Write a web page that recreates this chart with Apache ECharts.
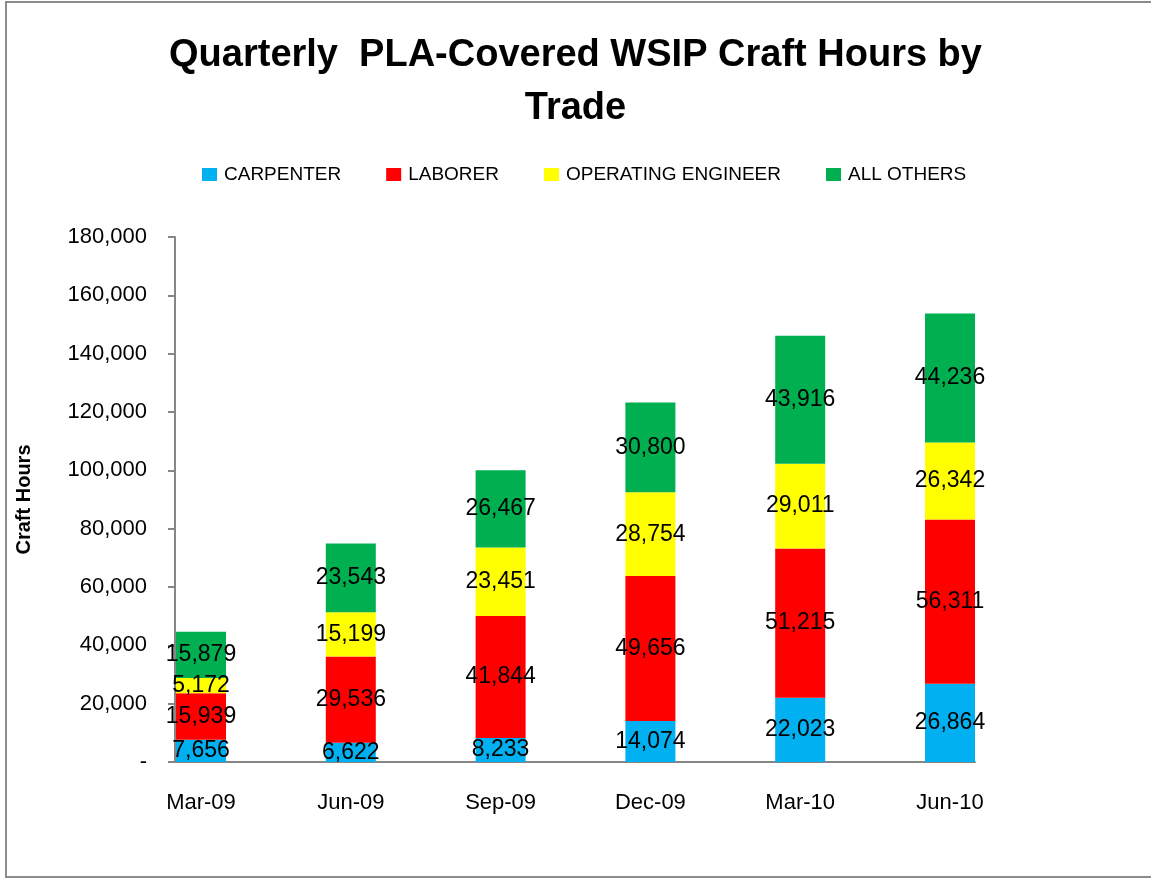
<!DOCTYPE html>
<html lang="en">
  <head>
    <meta charset="utf-8" />
    <style>
      html, body { margin: 0; height: 100%; overflow: hidden; background: #fff; }
      #container { position: absolute; left: 0; top: 0; width: 1151px; height: 878px; }
      #frame {
        position: absolute; left: 5px; top: 1px; width: 1300px; height: 877px;
        box-sizing: border-box; border: 2px solid #8c8c8c; pointer-events: none;
      }
    </style>
  </head>
  <body>
    <div id="container"></div>
    <div id="frame"></div>

    <script src="https://cdn.jsdelivr.net/npm/echarts@6/dist/echarts.min.js"></script>
    <script>
      var quarters = ["Mar-09", "Jun-09", "Sep-09", "Dec-09", "Mar-10", "Jun-10"];
      var carpenter = [7656, 6622, 8233, 14074, 22023, 26864];
      var laborer = [15939, 29536, 41844, 49656, 51215, 56311];
      var operatingEngineer = [5172, 15199, 23451, 28754, 29011, 26342];
      var allOthers = [15879, 23543, 26467, 30800, 43916, 44236];

      var trades = ["CARPENTER", "LABORER", "OPERATING ENGINEER", "ALL OTHERS"];
      var values = [carpenter, laborer, operatingEngineer, allOthers];
      var colors = ["#00B0F0", "#FF0000", "#FFFF00", "#00B050"];

      var font = "'Liberation Sans', Arial, sans-serif";

      function fmt(v) {
        return v === 0 ? "-" : Number(v).toLocaleString("en-US");
      }

      var myChart = echarts.init(document.getElementById("container"), null, { renderer: "canvas" });

      var series = trades.map(function (name, i) {
        return {
          name: name,
          type: "bar",
          stack: "hours",
          xAxisIndex: 0,
          yAxisIndex: 0,
          barWidth: 50,
          itemStyle: { color: colors[i] },
          label: {
            show: true,
            position: "inside",
            color: "#000",
            fontFamily: font,
            fontSize: 23,
            formatter: function (p) { return fmt(p.value); }
          },
          data: values[i]
        };
      });

      var option = {
        animation: false,
        color: colors,
        title: {
          text: "Quarterly  PLA-Covered WSIP Craft Hours by\nTrade",
          left: "center",
          top: 24,
          textStyle: {
            fontFamily: font,
            fontWeight: "bold",
            fontSize: 38,
            lineHeight: 53,
            color: "#000",
            align: "center"
          }
        },
        legend: {
          data: trades,
          left: 197,
          top: 160,
          itemWidth: 15,
          itemHeight: 13,
          itemGap: 45,
          icon: "rect",
          textStyle: { fontFamily: font, fontSize: 19, color: "#000", padding: [0, 0, 0, 2] }
        },
        grid: [
          { left: 201, right: 201, top: 237, bottom: 116 },
          { left: 175, right: 176, top: 237, bottom: 116 }
        ],
        xAxis: [
          {
            type: "category",
            gridIndex: 0,
            data: quarters,
            boundaryGap: false,
            axisLine: { show: false },
            axisTick: { show: false },
            axisLabel: { fontFamily: font, fontSize: 22, color: "#000", margin: 30 }
          },
          {
            type: "value",
            gridIndex: 1,
            min: 0,
            max: 1,
            axisLine: { show: true, lineStyle: { color: "#868686", width: 2 } },
            axisTick: { show: false },
            axisLabel: { show: false },
            splitLine: { show: false }
          }
        ],
        yAxis: [
          {
            type: "value",
            gridIndex: 0,
            min: 0,
            max: 180000,
            interval: 20000,
            offset: 26,
            name: "Craft Hours",
            nameLocation: "middle",
            nameGap: 141,
            nameTextStyle: { fontFamily: font, fontWeight: "bold", fontSize: 20, color: "#000" },
            axisLine: { show: true, lineStyle: { color: "#868686", width: 2 } },
            axisTick: { show: true, length: 7, lineStyle: { color: "#868686", width: 2 } },
            splitLine: { show: false },
            axisLabel: {
              fontFamily: font,
              fontSize: 22,
              color: "#000",
              margin: 28,
              formatter: fmt
            }
          },
          {
            type: "value",
            gridIndex: 1,
            show: false
          }
        ],
        series: series
      };

      myChart.setOption(option);
    </script>
  </body>
</html>
